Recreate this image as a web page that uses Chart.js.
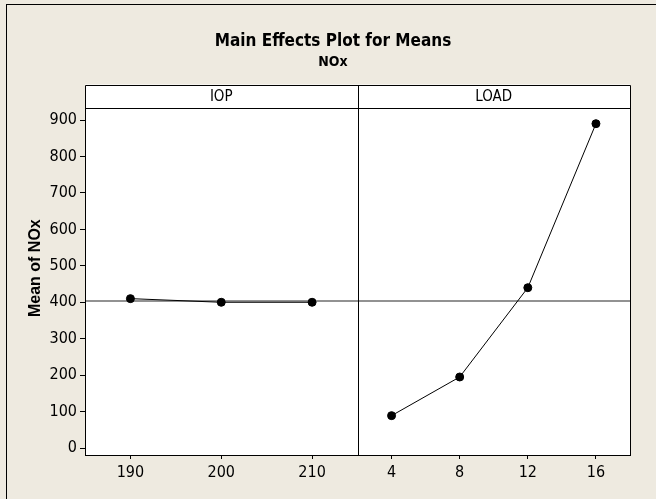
<!DOCTYPE html>
<html>
<head>
<meta charset="utf-8">
<script src="https://cdn.jsdelivr.net/npm/chart.js@4.4.1/dist/chart.umd.min.js"></script>
<style>
  html, body { margin: 0; padding: 0; background: #eeeae0; }
  body { width: 656px; height: 499px; position: relative; overflow: hidden; }
  #frame { position: absolute; left: 6px; top: 4px; width: 700px; height: 560px;
           border-left: 1px solid #000; border-top: 1px solid #000; }
  #chart { position: absolute; left: 0; top: 0; }
</style>
</head>
<body>
<div id="frame"></div>
<canvas id="chart" width="656" height="499"></canvas>
<script>
/* Main effects plot */
const IOP_LEVELS = [190, 200, 210];
const IOP_MEANS = [410, 400, 400];
const LOAD_LEVELS = [4, 8, 12, 16];
const LOAD_MEANS = [89, 195, 440, 890];
const Y_TICKS = [0, 100, 200, 300, 400, 500, 600, 700, 800, 900];
const GRAND_MEAN = 403.4;

const NARROW = "'Liberation Sans Narrow', 'DejaVu Sans Condensed', sans-serif";
const STRIP_H = 23.5;

function px(v) {
    return Math.round(v) + 0.5;
}

function toPoints(xs, ys) {
    return xs.map((x, i) => ({ x: x, y: ys[i] }));
}

/* fond blanc, ligne de moyenne, cadres et bandeaux des panneaux */
const panelFrame = {
    id: 'panelFrame',
    beforeDraw(chart) {
        const { ctx, chartArea: a } = chart;
        ctx.save();
        ctx.fillStyle = '#fff';
        ctx.fillRect(a.left, a.top - STRIP_H, a.right - a.left, a.bottom - a.top + STRIP_H);
        ctx.restore();
    },
    beforeDatasetsDraw(chart) {
        const { ctx, chartArea: a, scales } = chart;
        const y = scales.y.getPixelForValue(GRAND_MEAN);
        ctx.save();
        ctx.strokeStyle = '#6e6e6e';
        ctx.lineWidth = 1.5;
        ctx.beginPath();
        ctx.moveTo(a.left, y);
        ctx.lineTo(a.right, y);
        ctx.stroke();
        ctx.restore();
    },
    afterDraw(chart) {
        const { ctx, chartArea: a, scales } = chart;
        const top = px(a.top - STRIP_H);
        const mid = px(a.top);
        const left = px(a.left);
        const right = px(a.right);
        const bottom = px(a.bottom);
        const div = px(scales.xIOP.right);

        ctx.save();
        ctx.strokeStyle = '#000';
        ctx.lineWidth = 1;
        ctx.beginPath();
        ctx.rect(left, top, right - left, bottom - top);
        ctx.moveTo(left, mid);
        ctx.lineTo(right, mid);
        ctx.moveTo(div, top);
        ctx.lineTo(div, bottom);
        ctx.stroke();

        ctx.fillStyle = '#000';
        ctx.font = '15px ' + NARROW;
        ctx.textAlign = 'center';
        ctx.textBaseline = 'middle';
        [[scales.xIOP, 'IOP'], [scales.xLOAD, 'LOAD']].forEach(([s, label]) => {
            ctx.fillText(label, (s.left + s.right) / 2, a.top - STRIP_H / 2 + 1);
        });
        ctx.restore();
    }
};

function xAxis(levels, min, max) {
    return {
        type: 'linear',
        axis: 'x',
        position: 'bottom',
        stack: 'panels',
        stackWeight: 1,
        min: min,
        max: max,
        afterBuildTicks: s => { s.ticks = levels.map(v => ({ value: v })); },
        afterFit: s => { s.height = 44; },
        grid: { display: true, drawOnChartArea: false, drawTicks: true, tickLength: 4, color: '#000' },
        border: { display: true, color: '#000' },
        ticks: { color: '#000', font: { family: NARROW, size: 16 }, padding: 4, maxRotation: 0, autoSkip: false }
    };
}

const lineStyle = {
    borderColor: '#000',
    backgroundColor: '#000',
    pointBackgroundColor: '#000',
    pointBorderColor: '#000',
    borderWidth: 1,
    pointRadius: 4,
    tension: 0
};

new Chart(document.getElementById('chart'), {
    type: 'line',
    data: {
        datasets: [
            Object.assign({ data: toPoints(IOP_LEVELS, IOP_MEANS), xAxisID: 'xIOP', yAxisID: 'y' }, lineStyle),
            Object.assign({ data: toPoints(LOAD_LEVELS, LOAD_MEANS), xAxisID: 'xLOAD', yAxisID: 'y' }, lineStyle)
        ]
    },
    options: {
        responsive: false,
        animation: false,
        layout: { padding: { left: 36, right: 26, top: 0, bottom: 0 } },
        plugins: {
            legend: { display: false },
            tooltip: { enabled: false },
            title: {
                display: true,
                text: 'Main Effects Plot for Means',
                color: '#000',
                font: { family: NARROW, size: 17, weight: 'bold', lineHeight: 1 },
                padding: { top: 33.5, bottom: 0 }
            },
            subtitle: {
                display: true,
                text: 'NOx',
                color: '#000',
                font: { family: NARROW, size: 14, weight: 'bold', lineHeight: 1 },
                padding: { top: 4.5, bottom: 39 }
            }
        },
        scales: {
            xIOP: xAxis(IOP_LEVELS, 185, 215),
            xLOAD: xAxis(LOAD_LEVELS, 2, 18),
            y: {
                type: 'linear',
                position: 'left',
                min: -19,
                max: 933,
                afterBuildTicks: s => { s.ticks = Y_TICKS.map(v => ({ value: v })); },
                afterFit: s => { s.width = 49; },
                grid: { display: true, drawOnChartArea: false, drawTicks: true, tickLength: 5, color: '#000' },
                border: { display: true, color: '#000' },
                ticks: { color: '#000', font: { family: NARROW, size: 16 }, padding: 3 },
                title: {
                    display: true,
                    text: '      Mean of NOx',
                    color: '#000',
                    font: { family: "'Liberation Sans', sans-serif", size: 16, weight: 'bold' },
                    padding: { top: -9.6, bottom: 0 }
                }
            }
        }
    },
    plugins: [panelFrame]
});
</script>
</body>
</html>
